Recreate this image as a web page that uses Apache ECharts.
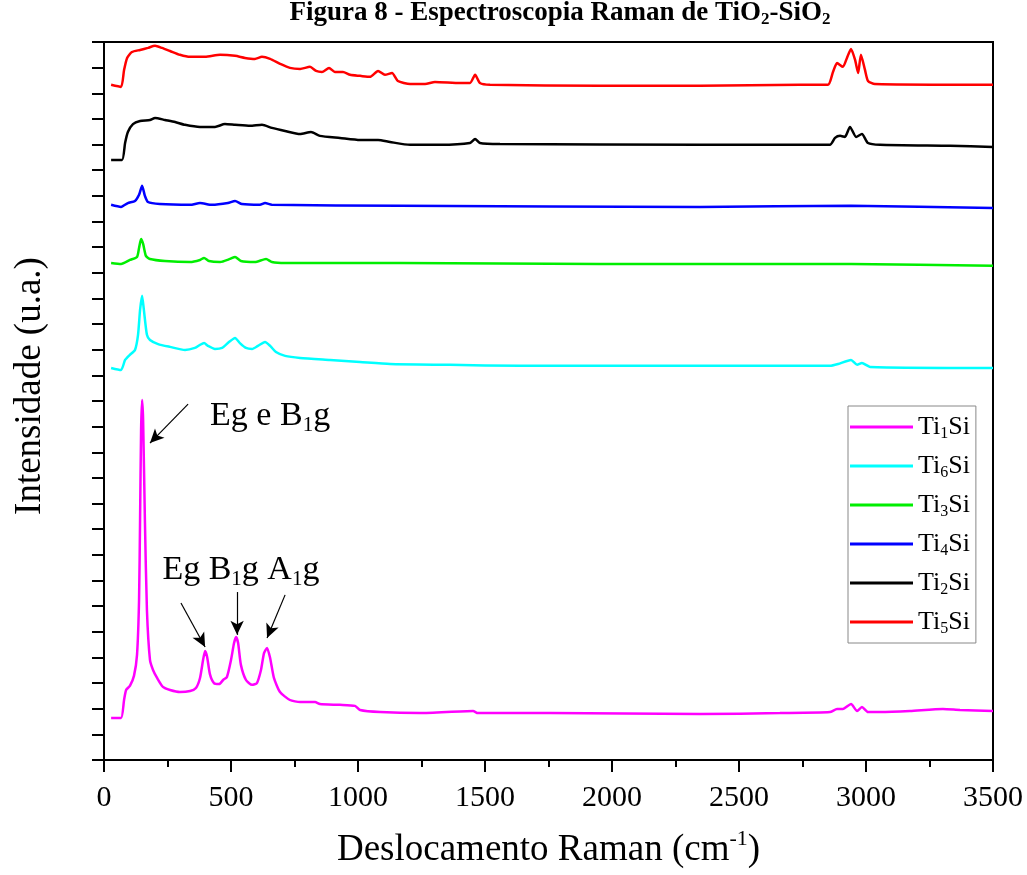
<!DOCTYPE html>
<html>
<head>
<meta charset="utf-8">
<script src="https://cdn.jsdelivr.net/npm/echarts@6/dist/echarts.min.js"></script>
<style>
html,body{margin:0;padding:0;background:#fff;}
#chart{width:1027px;height:875px;}
</style>
</head>
<body>
<div id="chart"></div>
<script>
// Raman shift (cm-1), stacked intensity (arbitrary units, offset per sample)
const ti1Si = [[28,1.64],[67,1.64],[79,2.34],[87,2.73],[102,2.89],[118,3.28],[130,4.10],[138,6.24],[142,9.36],[146,12.87],[150,14.04],[154,13.26],[161,9.36],[169,5.85],[181,3.90],[193,3.51],[209,3.20],[232,2.85],[260,2.73],[299,2.65],[339,2.69],[362,2.81],[378,3.20],[390,3.90],[398,4.25],[406,4.02],[417,3.35],[433,3.00],[453,2.96],[469,3.12],[484,3.24],[500,3.90],[512,4.56],[520,4.80],[528,4.56],[539,3.71],[559,3.12],[583,2.93],[602,3.00],[618,3.51],[630,4.17],[642,4.37],[654,3.98],[669,3.20],[693,2.65],[732,2.34],[772,2.26],[831,2.26],[850,2.18],[929,2.15],[988,2.11],[1008,1.95],[1087,1.87],[1244,1.83],[1453,1.91],[1472,1.83],[1756,1.83],[2346,1.79],[2661,1.83],[2858,1.87],[2886,1.99],[2909,1.99],[2941,2.18],[2965,1.91],[2984,2.07],[3008,1.87],[3055,1.87],[3173,1.91],[3303,1.99],[3370,1.95],[3500,1.91]];
const ti6Si = [[28,15.29],[67,15.21],[83,15.60],[102,15.80],[122,15.99],[134,16.58],[142,17.55],[150,18.10],[157,17.55],[169,16.58],[181,16.38],[213,16.22],[260,16.11],[319,15.99],[358,16.07],[378,16.19],[394,16.26],[409,16.15],[437,16.03],[465,16.07],[492,16.30],[516,16.46],[535,16.26],[559,16.07],[583,16.03],[606,16.15],[634,16.30],[654,16.15],[677,15.91],[713,15.76],[772,15.68],[890,15.60],[1008,15.52],[1126,15.44],[1362,15.41],[1638,15.37],[2346,15.37],[2858,15.37],[2890,15.44],[2941,15.60],[2965,15.41],[2984,15.48],[3016,15.33],[3500,15.29]];
const ti3Si = [[28,19.38],[67,19.34],[102,19.50],[130,19.62],[138,19.97],[146,20.32],[154,20.13],[165,19.66],[181,19.54],[240,19.46],[339,19.42],[378,19.50],[394,19.58],[413,19.46],[457,19.42],[496,19.54],[516,19.62],[539,19.46],[594,19.42],[638,19.54],[661,19.42],[713,19.38],[1165,19.38],[1953,19.34],[2941,19.34],[3500,19.27]];
const ti4Si = [[28,21.65],[67,21.57],[94,21.72],[122,21.80],[138,22.04],[150,22.39],[161,22.00],[173,21.76],[220,21.68],[339,21.65],[378,21.72],[425,21.65],[488,21.72],[516,21.80],[543,21.68],[614,21.65],[634,21.72],[661,21.65],[1165,21.61],[2346,21.57],[2941,21.61],[3500,21.53]];
const ti2Si = [[28,23.40],[71,23.40],[83,24.06],[94,24.49],[114,24.80],[142,24.92],[181,24.96],[201,25.04],[240,24.96],[280,24.88],[319,24.77],[378,24.69],[437,24.69],[476,24.80],[516,24.77],[575,24.73],[622,24.77],[661,24.65],[713,24.53],[772,24.41],[815,24.49],[850,24.34],[929,24.26],[1008,24.18],[1079,24.18],[1126,24.10],[1205,23.99],[1323,23.99],[1441,24.06],[1461,24.22],[1480,24.06],[1559,24.02],[2346,23.99],[2858,23.99],[2878,24.26],[2898,24.34],[2917,24.30],[2937,24.69],[2961,24.30],[2984,24.41],[3008,24.06],[3055,23.99],[3331,23.95],[3500,23.91]];
const ti5Si = [[28,26.33],[67,26.25],[79,26.91],[91,27.38],[110,27.61],[142,27.69],[173,27.77],[201,27.85],[228,27.77],[260,27.65],[299,27.50],[339,27.42],[398,27.42],[457,27.50],[516,27.46],[555,27.38],[594,27.34],[622,27.42],[654,27.34],[693,27.15],[732,26.99],[772,26.95],[811,27.03],[835,26.87],[858,26.83],[886,26.99],[909,26.83],[941,26.83],[969,26.72],[1008,26.68],[1047,26.64],[1079,26.87],[1106,26.72],[1134,26.79],[1157,26.48],[1205,26.36],[1264,26.36],[1303,26.44],[1402,26.40],[1441,26.40],[1461,26.72],[1480,26.40],[1520,26.33],[1953,26.29],[2346,26.29],[2740,26.33],[2850,26.33],[2870,26.83],[2886,27.18],[2909,27.03],[2925,27.38],[2941,27.73],[2957,27.30],[2969,26.79],[2980,27.50],[2996,26.91],[3008,26.48],[3035,26.36],[3500,26.33]];

const seriesNames = ['Ti1Si','Ti6Si','Ti3Si','Ti4Si','Ti2Si','Ti5Si'];
const seriesData = [ti1Si, ti6Si, ti3Si, ti4Si, ti2Si, ti5Si];
const seriesColors = ['#ff00ff','#00ffff','#00ee00','#0000ff','#000000','#ff0000'];

// peak annotations: arrows [start, end] and labels [position, text]
const arrowLines = [
  [[331,13.88],[181,12.36]],
  [[303,6.12],[398,4.41]],
  [[524,6.55],[524,4.88]],
  [[713,6.44],[642,4.76]]
];
const peakLabels = [
  [[654,13.42], 'Eg e B{sub|1}g'],
  [[539,7.41], 'Eg B{sub|1}g A{sub|1}g']
];

const FONT = '"Liberation Serif", "Times New Roman", serif';
const chart = echarts.init(document.getElementById('chart'));

const series = seriesNames.map((n, i) => {
  const s = {
    name: n, type: 'line', data: seriesData[i], showSymbol: false, smooth: 0.2,
    lineStyle: { color: seriesColors[i], width: 2.5 }, itemStyle: { color: seriesColors[i] },
    z: 2 + i
  };
  if (i === 0) {
    s.markLine = {
      silent: true, symbol: ['none','arrow'], symbolSize: [10, 14],
      lineStyle: { color: '#000', width: 1.2, type: 'solid' },
      label: { show: false },
      data: arrowLines.map(a => [{ coord: a[0] }, { coord: a[1] }])
    };
    s.markPoint = {
      silent: true, symbol: 'circle', symbolSize: 0,
      label: {
        show: true, position: 'inside', color: '#000', fontFamily: FONT, fontSize: 34,
        formatter: p => p.name,
        rich: { sub: { fontFamily: FONT, fontSize: 21, verticalAlign: 'bottom', lineHeight: 40, color: '#000' } },
        lineHeight: 40
      },
      data: peakLabels.map(l => ({ coord: l[0], name: l[1] }))
    };
  }
  return s;
});

chart.setOption({
  backgroundColor: '#fff',
  animation: false,
  title: {
    text: 'Figura 8 - Espectroscopia Raman de TiO{sub|2}-SiO{sub|2}',
    left: 560, top: -2, textAlign: 'center', padding: 0,
    textStyle: {
      fontFamily: FONT, fontWeight: 'bold', fontSize: 27, color: '#000', lineHeight: 30,
      rich: { sub: { fontFamily: FONT, fontWeight: 'bold', fontSize: 17, verticalAlign: 'bottom', lineHeight: 30, color: '#000' } }
    }
  },
  grid: { left: 104, right: 34, top: 42, bottom: 115, containLabel: false, outerBoundsMode: 'none', show: true, borderColor: '#000', borderWidth: 2, backgroundColor: 'transparent' },
  legend: {
    orient: 'vertical', left: 848, top: 406,
    data: seriesNames,
    itemWidth: 63, itemHeight: 3, itemGap: 9,
    backgroundColor: '#fff', borderColor: '#888', borderWidth: 1,
    padding: [6, 6, 6, 2],
    icon: 'rect',
    formatter: n => 'Ti{sub|' + n.slice(2, 3) + '}Si',
    textStyle: {
      fontFamily: FONT, fontSize: 26, color: '#000', lineHeight: 30,
      rich: { sub: { fontFamily: FONT, fontSize: 16, verticalAlign: 'bottom', lineHeight: 30, color: '#000' } }
    },
    itemStyle: { borderWidth: 0 }
  },
  xAxis: {
    type: 'value', min: 0, max: 3500, interval: 500,
    name: 'Deslocamento Raman (cm{sup|-1})', nameLocation: 'middle', nameGap: 68,
    nameTextStyle: {
      fontFamily: FONT, fontSize: 37, color: '#000', lineHeight: 44,
      rich: { sup: { fontFamily: FONT, fontSize: 22, verticalAlign: 'top', lineHeight: 44, color: '#000' } }
    },
    axisLine: { lineStyle: { color: '#000', width: 2 } },
    axisTick: { show: true, inside: false, length: 12, lineStyle: { color: '#000', width: 2 } },
    minorTick: { show: true, splitNumber: 2, length: 7, lineStyle: { color: '#000', width: 2 } },
    axisLabel: { fontFamily: FONT, fontSize: 30, color: '#000', margin: 23, formatter: v => String(v) },
    splitLine: { show: false }
  },
  yAxis: {
    type: 'value', min: 0, max: 28, interval: 1,
    name: 'Intensidade (u.a.)', nameLocation: 'middle', nameGap: 55, nameRotate: 90,
    nameTextStyle: { fontFamily: FONT, fontSize: 37, color: '#000', padding: [0, 0, 0, 30] },
    axisLine: { lineStyle: { color: '#000', width: 2 } },
    axisTick: { show: true, inside: false, length: 12, lineStyle: { color: '#000', width: 2 } },
    axisLabel: { show: false },
    splitLine: { show: false }
  },
  series: series
});
</script>
</body>
</html>
